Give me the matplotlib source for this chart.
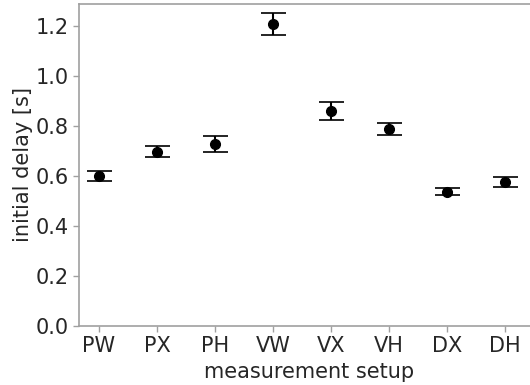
import matplotlib
matplotlib.use("Agg")
import matplotlib.pyplot as plt

setups = ["PW", "PX", "PH", "VW", "VX", "VH", "DX", "DH"]
delay = [0.601, 0.696, 0.726, 1.207, 0.859, 0.787, 0.536, 0.576]
delay_err = [0.020, 0.022, 0.032, 0.043, 0.037, 0.025, 0.014, 0.020]

plt.rcParams["font.family"] = "DejaVu Sans"
plt.rcParams["font.size"] = 15

fig = plt.figure(figsize=(5.3, 3.85), dpi=100)
ax = fig.add_axes([79 / 530, 59 / 385, 461 / 530, 322 / 385])

x = list(range(len(setups)))
ax.errorbar(x, delay, yerr=delay_err, fmt="o", color="black", ecolor="black",
            markersize=7, elinewidth=1.5, capsize=9, capthick=1.2)

ax.set_xticks(x)
ax.set_xticklabels(setups)
ax.set_xlim(-0.345, (540 - 99) / 58)
ax.set_ylim(0, 1.286)
ax.set_yticks([0.0, 0.2, 0.4, 0.6, 0.8, 1.0, 1.2])
ax.set_xlabel("measurement setup", color="#262626", labelpad=4)
ax.set_ylabel("initial delay [s]", color="#262626", labelpad=2)

for s in ax.spines.values():
    s.set_color("#a0a0a0")
    s.set_linewidth(1.2)
# the original is cut off on the right, so no right spine shows
ax.spines["right"].set_visible(False)
ax.tick_params(colors="#a0a0a0", labelcolor="#262626", length=4, width=1, labelsize=15)

fig.savefig("out.png", dpi=100)
